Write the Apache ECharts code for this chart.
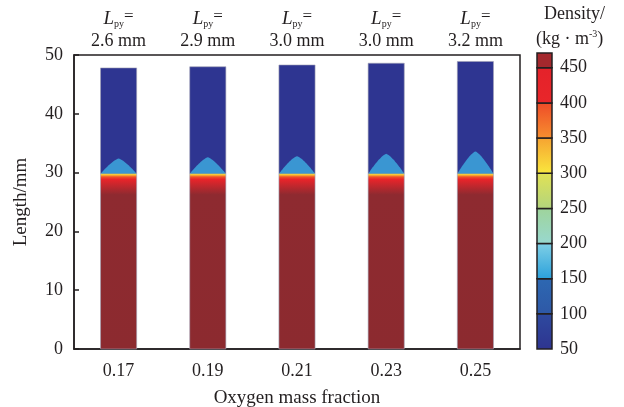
<!DOCTYPE html>
<html>
<head>
<meta charset="utf-8">
<script src="https://cdn.jsdelivr.net/npm/echarts@6/dist/echarts.min.js"></script>
<style>
  html, body { margin: 0; padding: 0; background: #fff; }
  #chart { width: 624px; height: 407px; }
</style>
</head>
<body>
<div id="chart"></div>
<script>
// oxygen mass fraction categories
const categories = ['0.17', '0.19', '0.21', '0.23', '0.25']
const lpyLabels = ['2.6 mm', '2.9 mm', '3.0 mm', '3.0 mm', '3.2 mm']
// column heights (mm), liquid interface (mm), dome apex (mm)
const columnTop = [47.8, 48.0, 48.3, 48.6, 48.9]
const interfaceLevel = [29.8, 29.8, 29.8, 29.8, 29.8]
const domePeak = [32.4, 32.6, 32.8, 33.2, 33.6]
// colorbar
const colorbarBounds = [50, 100, 150, 200, 250, 300, 350, 400, 450, 471]

const serif = 'Liberation Serif'
const ink = '#231f20'

// bottom/top colour of each colorbar segment
const colorbarPalette = [
  ['#2e3490', '#2e4a9f'],
  ['#2e58a6', '#2d68b2'],
  ['#2aa0db', '#80d0e6'],
  ['#98d8d0', '#9fd49a'],
  ['#b2d47e', '#e2e254'],
  ['#f9e83e', '#f6a231'],
  ['#f7902f', '#ee4a28'],
  ['#e9262a', '#e4222a'],
  ['#a4282d', '#a4282d']
]

const chart = echarts.init(document.getElementById('chart'))

const columnData = categories.map((c, i) => [i, columnTop[i], interfaceLevel[i], domePeak[i]])
const colorbarData = colorbarBounds.slice(0, -1).map((lo, i) => [0, lo, colorbarBounds[i + 1], i])

function renderColumn(params, api) {
  const idx = api.value(0)
  const top = api.coord([idx, api.value(1)])
  const iface = api.coord([idx, api.value(2)])
  const peak = api.coord([idx, api.value(3)])
  const base = api.coord([idx, 0])
  const w = api.size([1, 0])[0] * 0.405
  const x0 = top[0] - w / 2

  const dome = []
  const n = 40
  for (let k = 0; k <= n; k++) {
    const t = -1 + 2 * k / n
    const h = 1 - Math.pow(Math.abs(t), 1.35)
    dome.push([top[0] + t * w / 2, iface[1] - h * (iface[1] - peak[1])])
  }

  return {
    type: 'group',
    children: [
      {
        type: 'rect',
        shape: { x: x0, y: top[1], width: w, height: iface[1] - top[1] },
        style: { fill: '#2e3591' }
      },
      {
        type: 'polygon',
        shape: { points: dome },
        style: { fill: '#3a96d2' }
      },
      {
        type: 'rect',
        shape: { x: x0, y: iface[1], width: w, height: base[1] - iface[1] },
        style: {
          fill: new echarts.graphic.LinearGradient(0, 0, 0, 1, [
            { offset: 0, color: '#f3e24a' },
            { offset: 0.008, color: '#f7b030' },
            { offset: 0.018, color: '#f05028' },
            { offset: 0.032, color: '#e8242a' },
            { offset: 0.07, color: '#c0272d' },
            { offset: 0.12, color: '#8e2a30' },
            { offset: 1, color: '#8c2a2f' }
          ])
        }
      },
      {
        type: 'rect',
        shape: { x: x0, y: top[1], width: w, height: base[1] - top[1] },
        style: { fill: null, stroke: 'rgba(160,160,180,0.6)', lineWidth: 1 }
      }
    ]
  }
}

function renderColorbar(params, api) {
  const lo = api.coord([0, api.value(1)])
  const hi = api.coord([0, api.value(2)])
  const seg = colorbarPalette[api.value(3)]
  const w = api.size([1, 0])[0]
  return {
    type: 'rect',
    shape: { x: lo[0] - w / 2, y: hi[1], width: w, height: lo[1] - hi[1] },
    style: {
      fill: new echarts.graphic.LinearGradient(0, 1, 0, 0, [
        { offset: 0, color: seg[0] },
        { offset: 1, color: seg[1] }
      ]),
      stroke: ink,
      lineWidth: 1.5
    }
  }
}

const topLabels = {}
lpyLabels.forEach((v, i) => { topLabels[categories[i]] = v })

chart.setOption({
  animation: false,
  textStyle: { fontFamily: serif, color: ink },
  grid: [
    { left: 74, right: 104, top: 55, bottom: 58, outerBoundsMode: 'none', show: true, borderColor: ink, borderWidth: 1.5 },
    { left: 537, width: 15, top: 53, bottom: 58, outerBoundsMode: 'none' }
  ],
  xAxis: [
    {
      type: 'category',
      gridIndex: 0,
      data: categories,
      axisLine: { lineStyle: { color: ink, width: 1.5 } },
      axisTick: { inside: true, alignWithLabel: true, length: 5, lineStyle: { color: ink, width: 1.5 } },
      axisLabel: { fontFamily: serif, fontSize: 18, color: ink, margin: 13 },
      name: 'Oxygen mass fraction',
      nameLocation: 'middle',
      nameGap: 40,
      nameTextStyle: { fontFamily: serif, fontSize: 19, color: ink }
    },
    {
      type: 'category',
      gridIndex: 0,
      position: 'top',
      data: categories,
      axisLine: { show: false },
      axisTick: { show: false },
      axisLabel: {
        interval: 0,
        margin: 3,
        formatter: (v) => '{l|L}{s|py}{e|=}\n{v|' + topLabels[v] + '}',
        rich: {
          l: { fontFamily: serif, fontStyle: 'italic', fontSize: 19, color: ink, lineHeight: 22 },
          s: { fontFamily: serif, fontSize: 10, color: ink, padding: [10, 0, 0, 0] },
          e: { fontFamily: serif, fontSize: 17, color: ink, padding: [0, 0, 4, 0] },
          v: { fontFamily: serif, fontSize: 18, color: ink, lineHeight: 22 }
        }
      }
    },
    {
      type: 'category',
      gridIndex: 1,
      data: ['bar'],
      show: false
    }
  ],
  yAxis: [
    {
      type: 'value',
      gridIndex: 0,
      min: 0,
      max: 50,
      interval: 10,
      splitLine: { show: false },
      axisLine: { show: true, lineStyle: { color: ink, width: 1.5 } },
      axisTick: { show: true, inside: true, length: 5, lineStyle: { color: ink, width: 1.5 } },
      axisLabel: { fontFamily: serif, fontSize: 18, color: ink, margin: 11 },
      name: 'Length/mm',
      nameLocation: 'middle',
      nameGap: 43,
      nameRotate: 90,
      nameTextStyle: { fontFamily: serif, fontSize: 19, color: ink }
    },
    {
      type: 'value',
      gridIndex: 1,
      position: 'right',
      min: 50,
      max: 471,
      interval: 50,
      splitLine: { show: false },
      axisLine: { show: false },
      axisTick: { show: false },
      axisLabel: {
        fontFamily: serif, fontSize: 18, color: ink, margin: 8,
        formatter: (v) => (v % 50 === 0 ? String(v) : '')
      }
    }
  ],
  graphic: [
    {
      type: 'text',
      left: 544,
      top: 5,
      style: {
        text: 'Density/',
        font: '18px "Liberation Serif"',
        fill: ink
      }
    },
    {
      type: 'text',
      left: 536,
      top: 29,
      style: {
        text: '(kg · m{sup|-3})',
        font: '18px "Liberation Serif"',
        fill: ink,
        rich: {
          sup: { fontFamily: serif, fontSize: 10, padding: [0, 0, 10, 0], fill: ink }
        }
      }
    }
  ],
  series: [
    {
      type: 'custom',
      xAxisIndex: 0,
      yAxisIndex: 0,
      data: columnData,
      renderItem: renderColumn
    },
    {
      type: 'custom',
      xAxisIndex: 2,
      yAxisIndex: 1,
      data: colorbarData,
      renderItem: renderColorbar
    }
  ]
})
</script>
</body>
</html>
